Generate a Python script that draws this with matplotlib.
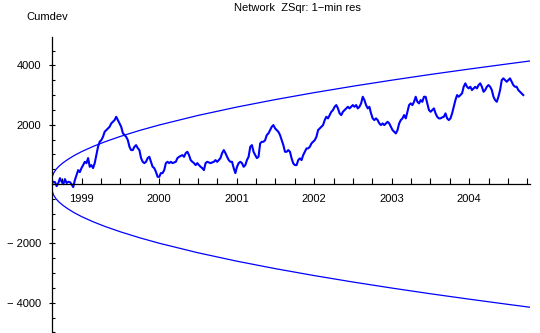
import matplotlib
matplotlib.use("Agg")
import matplotlib.pyplot as plt
import numpy as np
from matplotlib.ticker import FixedLocator, MultipleLocator

plt.rcParams['font.family'] = ['Liberation Sans', 'DejaVu Sans']

# cumulative deviation (roughly weekly samples)
start_year = 1998.613
end_year = 2004.698
cumdev = [
    0, 78, 67, -67, 34, 200, 78, 0, 169, 34, 78, 67, 0, -101, 135, 304, 472, 405, 540, 641,
    752, 708, 877, 584, 641, 540, 708, 978, 1258, 1427, 1484, 1595, 1764, 1821, 1879, 1933,
    2047, 2101, 2159, 2270, 2159, 2047, 1933, 1720, 1653, 1595, 1484, 1258, 1147,
    1147, 1258, 1315, 1214, 1147, 877, 752, 708, 752, 877, 921, 752, 584, 540, 415, 246,
    246, 371, 371, 472, 708, 752, 708, 752, 708, 730, 752, 877, 921, 950, 978, 921, 1046,
    1090, 978, 810, 752, 708, 641, 708, 641, 584, 540, 472, 708, 752,
    730, 708, 730, 752, 810, 752, 810, 877, 1046, 1147, 1046, 921, 810, 752, 752, 540, 371,
    584, 708, 752, 708, 584, 641, 810, 921, 1258, 1315, 1090, 978, 877, 921, 1373, 1427,
    1427, 1484, 1653, 1710, 1821, 1933, 1990, 1879, 1821, 1764, 1653, 1484, 1315, 1090,
    1090, 1147, 1090, 867, 698, 641, 641, 810, 867, 810, 978, 1090, 1204, 1204, 1258, 1373,
    1427, 1484, 1595, 1821, 1879, 1933, 1990, 2159, 2270, 2216, 2327, 2439, 2496, 2607,
    2665, 2553, 2385, 2327, 2439, 2496, 2553, 2607, 2553, 2607, 2665, 2607, 2665, 2553,
    2607, 2722, 2945,
    2833, 2665, 2553, 2607, 2385, 2216, 2159, 2216, 2159, 2047, 1990, 2047, 1990, 2047,
    2101, 2047, 1933, 1821, 1764, 1710, 1821, 2047, 2159, 2216, 2327, 2216, 2439, 2665,
    2722, 2665, 2776, 2945, 2776, 2722, 2833, 2776, 2945, 2945, 2722, 2496, 2439, 2496,
    2553, 2385, 2270, 2216, 2216,
    2250, 2270, 2385, 2216, 2159, 2216, 2385, 2607, 2833, 3002, 2945, 3002, 3059, 3282,
    3397, 3282, 3228, 3282, 3171, 3228, 3282, 3228, 3339, 3397, 3282, 3113, 3171, 3282,
    3339, 3282, 3171, 2945, 2833, 2776, 2945, 3171, 3508, 3565, 3508, 3451, 3508, 3565,
    3451, 3339, 3282, 3282, 3171, 3113, 3059, 3002,
]

# probability envelope
env_years = [1998.613, 1998.62, 1998.64, 1998.67, 1998.71, 1998.76, 1998.82, 1998.9, 1999.0,
             1999.15, 1999.3, 1999.5, 1999.75, 2000.0, 2000.5, 2001.0, 2001.5, 2002.0,
             2002.5, 2003.0, 2003.5, 2004.0, 2004.5, 2004.785]
env_vals = [150, 250, 380, 500, 610, 720, 830, 960, 1097, 1273, 1427, 1609, 1811, 1993,
            2315, 2597, 2851, 3084, 3301, 3504, 3697, 3879, 4054, 4152]

year_labels = [1999, 2000, 2001, 2002, 2003, 2004]
y_ticks = [-4000, -2000, 2000, 4000]

years = np.linspace(start_year, end_year, len(cumdev))
env = np.array(env_vals)

fig = plt.figure(figsize=(5.40, 3.33), dpi=100)
ax = fig.add_axes([51.7 / 540, 0.0, 478.3 / 540, 1 - 37.3 / 333])

blue = "#0000ff"
ax.plot(env_years, env, color=blue, lw=0.9)
ax.plot(env_years, -env, color=blue, lw=0.9)
ax.plot(years, cumdev, color=blue, lw=1.5)

ax.set_xlim(start_year, 2004.785)
ax.set_ylim(-5020, 4950)

ax.spines['top'].set_visible(False)
ax.spines['right'].set_visible(False)
ax.spines['bottom'].set_position(('data', 0))
ax.spines['left'].set_linewidth(0.9)
ax.spines['bottom'].set_linewidth(0.9)

ax.xaxis.set_major_locator(FixedLocator(year_labels))
ax.set_xticklabels([str(y) for y in year_labels])
ax.xaxis.set_minor_locator(MultipleLocator(0.25))
ax.tick_params(axis='x', which='both', direction='in', length=4, width=0.8,
               labelsize=8, pad=7)

ax.yaxis.set_major_locator(FixedLocator(y_ticks))
ax.set_yticklabels([str(v).replace('-', '\u2212 ') for v in y_ticks])
ax.yaxis.set_minor_locator(MultipleLocator(500))
ax.tick_params(axis='y', which='major', direction='inout', length=5, width=0.8,
               labelsize=8, pad=5)
ax.tick_params(axis='y', which='minor', direction='in', length=2.5, width=0.8)

fig.text(297 / 540, 1 - 8 / 333, "Network  ZSqr: 1\u2212min res", ha='center',
         va='center', fontsize=8)
fig.text(26.7 / 540, 1 - 17.3 / 333, "Cumdev", ha='left', va='center', fontsize=8)

fig.savefig("out.png", dpi=100)
